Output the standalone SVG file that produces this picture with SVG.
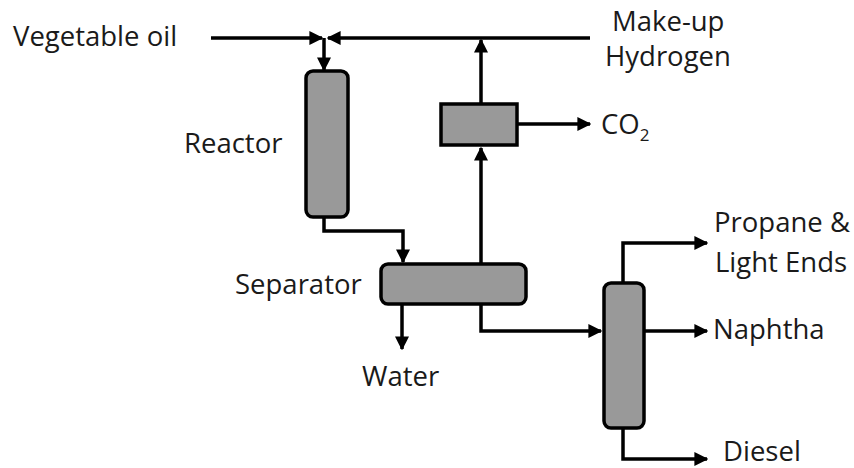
<svg xmlns="http://www.w3.org/2000/svg" width="854" height="468" viewBox="0 0 854 468">
<style>
.unit{fill:#999;stroke:#000;stroke-width:3.5}
.ln{fill:none;stroke:#000;stroke-width:3.5;stroke-linejoin:miter}
text{font-family:"Open Sans","Noto Sans",sans-serif;font-size:27.5px;fill:#1a1a1a}
</style>
<defs>
<marker id="ah" viewBox="0 0 10 10" refX="9" refY="5" markerWidth="4" markerHeight="4" orient="auto" markerUnits="strokeWidth">
<path d="M0,0 L10,5 L0,10 Z" fill="#000"/>
</marker>
</defs>
<rect width="854" height="468" fill="#fff"/>
<g id="connectors">
<line class="ln" x1="211" y1="38" x2="322" y2="38" marker-end="url(#ah)"/>
<line class="ln" x1="590" y1="38" x2="328" y2="38" marker-end="url(#ah)"/>
<line class="ln" x1="324" y1="38" x2="324" y2="70" marker-end="url(#ah)"/>
<line class="ln" x1="481" y1="103" x2="481" y2="40" marker-end="url(#ah)"/>
<line class="ln" x1="518" y1="124" x2="590" y2="124" marker-end="url(#ah)"/>
<polyline class="ln" points="324,217 324,231 403,231 403,262" marker-end="url(#ah)"/>
<line class="ln" x1="481" y1="264" x2="481" y2="148" marker-end="url(#ah)"/>
<line class="ln" x1="402" y1="304" x2="402" y2="349" marker-end="url(#ah)"/>
<polyline class="ln" points="481,304 481,331 601,331" marker-end="url(#ah)"/>
<polyline class="ln" points="623,282 623,243 707,243" marker-end="url(#ah)"/>
<line class="ln" x1="644" y1="331" x2="707" y2="331" marker-end="url(#ah)"/>
<polyline class="ln" points="623,429 623,459 707,459" marker-end="url(#ah)"/>
</g>
<g id="reactor"><rect class="unit" x="306" y="71" width="42" height="146" rx="7"/></g>
<g id="membrane"><rect class="unit" x="441" y="104" width="76" height="41"/></g>
<g id="separator"><rect class="unit" x="381" y="264" width="145" height="40" rx="7"/></g>
<g id="column"><rect class="unit" x="604" y="283" width="40" height="145" rx="7"/></g>
<g id="labels">
<text x="13" y="46">Vegetable oil</text>
<text x="612" y="31">Make-up</text>
<text x="605" y="66">Hydrogen</text>
<text x="184" y="153">Reactor</text>
<text x="235" y="294">Separator</text>
<text x="362" y="386">Water</text>
<text x="601" y="134">CO<tspan font-size="17" dy="7">2</tspan></text>
<text x="714" y="232">Propane &amp;</text>
<text x="715" y="272">Light Ends</text>
<text x="713" y="339">Naphtha</text>
<text x="723" y="461">Diesel</text>
</g>
</svg>
